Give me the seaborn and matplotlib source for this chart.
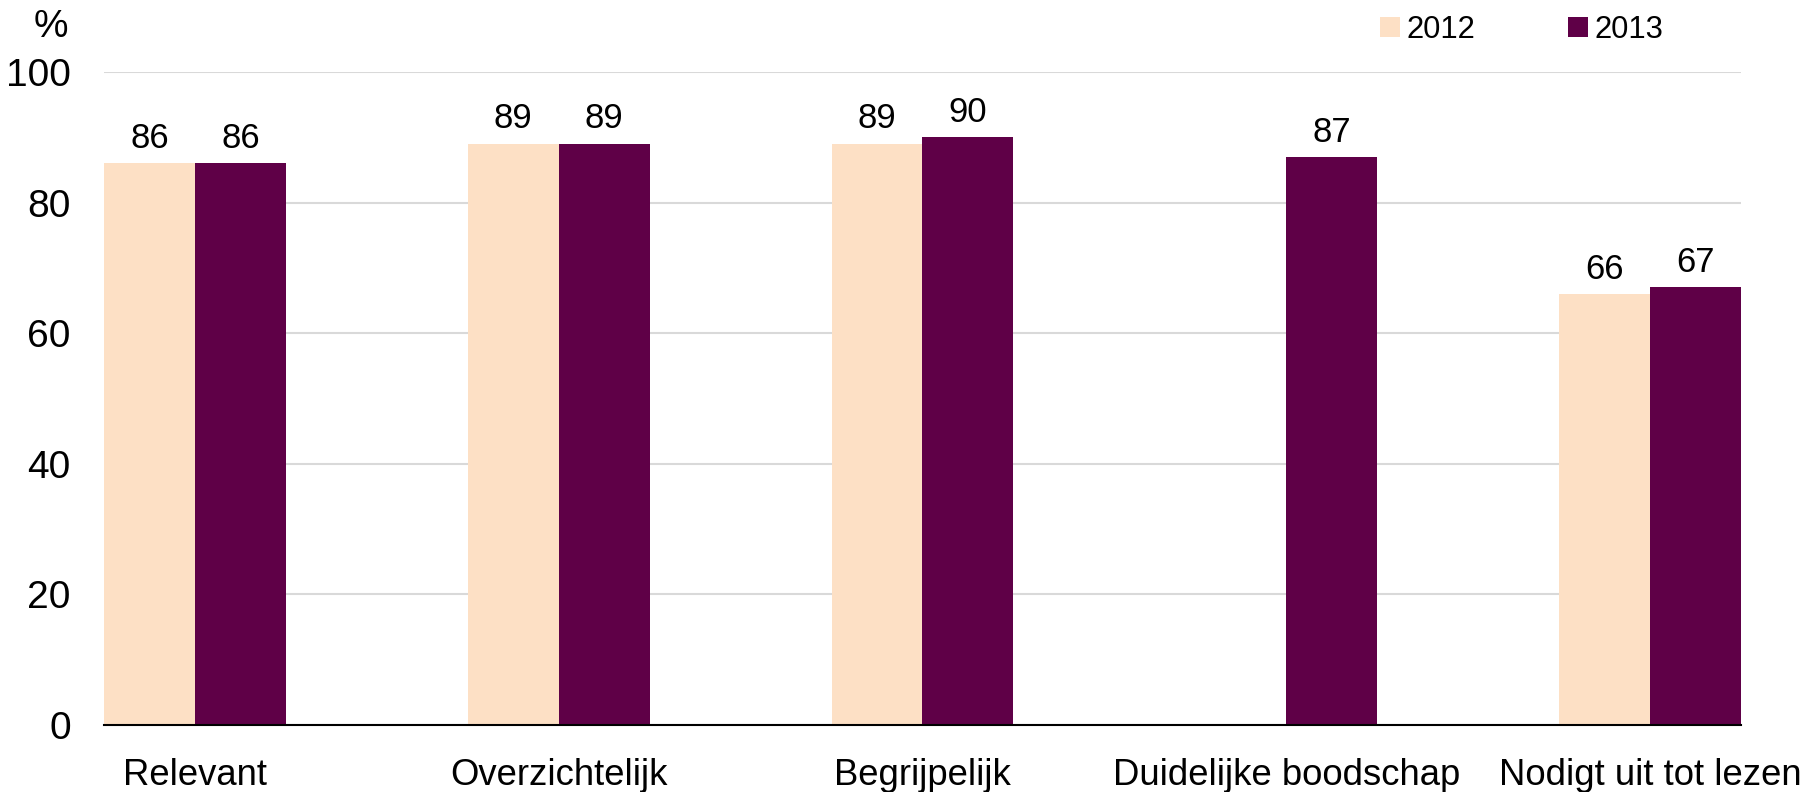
import numpy as np
import pandas as pd
import matplotlib
matplotlib.use("Agg")
import matplotlib.pyplot as plt
import seaborn as sns

categories = ["Relevant", "Overzichtelijk", "Begrijpelijk",
              "Duidelijke boodschap", "Nodigt uit tot lezen"]
years = ["2012", "2013"]
values_2012 = [86, 89, 89, np.nan, 66]
values_2013 = [86, 89, 90, 87, 67]
yticks = [0, 20, 40, 60, 80, 100]

colors = {"2012": "#FDE0C5", "2013": "#5F0047"}

df = pd.DataFrame({
    "categorie": categories * 2,
    "jaar": ["2012"] * len(categories) + ["2013"] * len(categories),
    "waarde": values_2012 + values_2013,
})

sns.set_theme(style="white")
plt.rcParams["font.family"] = ["Liberation Sans", "DejaVu Sans"]
plt.rcParams["text.color"] = "black"
plt.rcParams["xtick.color"] = "black"
plt.rcParams["ytick.color"] = "black"

W, H = 1808, 792
fig = plt.figure(figsize=(W / 100, H / 100), dpi=100)
ax = fig.add_axes([104 / W, 1 - 725 / H, (1741 - 104) / W, (725 - 72) / H])

sns.barplot(data=df, x="categorie", y="waarde", hue="jaar",
            order=categories, hue_order=years, palette=colors,
            width=0.5, errorbar=None, saturation=1, ax=ax,
            linewidth=0)

for cont in ax.containers:
    labels = ["" if np.isnan(b.get_height()) else f"{b.get_height():.0f}"
              for b in cont]
    ax.bar_label(cont, labels=labels, padding=6, fontsize=25, color="black")

ax.set_xlim(-0.25, len(categories) - 0.75)
ax.set_ylim(0, 100)
ax.set_yticks(yticks)
ax.set_yticklabels([str(t) for t in yticks], fontsize=28)
ax.tick_params(axis="y", length=0, pad=24)
ax.tick_params(axis="x", length=0, pad=23.5, labelsize=26.3)
ax.set_xlabel("")
ax.set_ylabel("")
ax.grid(axis="y", color="#D9D9D9", linewidth=1.5)
ax.set_axisbelow(True)
for side in ["left", "right", "top"]:
    ax.spines[side].set_visible(False)
ax.spines["bottom"].set_color("black")
ax.spines["bottom"].set_linewidth(1.5)

handles, lbls = ax.get_legend_handles_labels()
ax.legend(handles, lbls, ncol=2, frameon=False, fontsize=22.3,
          loc="center left", bbox_to_anchor=(1380 / W, 1 - 30 / H),
          bbox_transform=fig.transFigure,
          handlelength=0.65, handleheight=0.65, handletextpad=0.2,
          columnspacing=3.0, borderaxespad=0, borderpad=0)

ax.annotate("%", xy=(51, H - 27), xycoords="figure pixels",
            fontsize=28, ha="center", va="center")

fig.savefig("out.png", dpi=100)
